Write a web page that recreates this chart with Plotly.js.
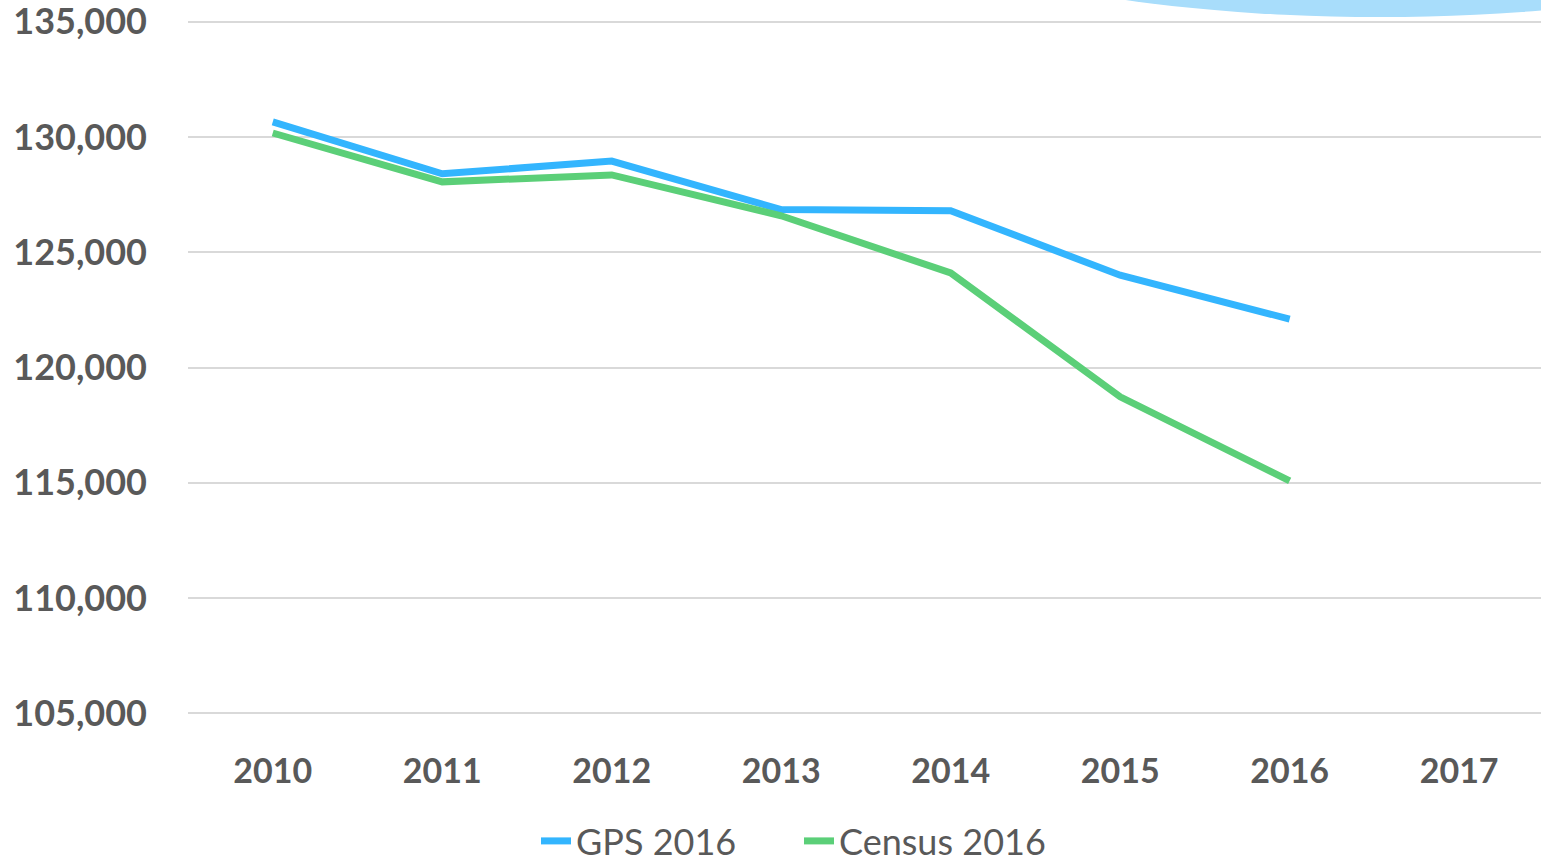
<!DOCTYPE html>
<html>
<head>
<meta charset="utf-8">
<script src="https://cdn.plot.ly/plotly-3.0.1.min.js"></script>
<style>
html,body{margin:0;padding:0;background:#fff;}
#chart{width:1541px;height:861px;}
</style>
</head>
<body>
<div id="chart"></div>
<script>
const years = ['2010','2011','2012','2013','2014','2015','2016','2017'];
const gpsYears = ['2010','2011','2012','2013','2014','2015','2016'];
const gps2016 = [130650, 128400, 128950, 126850, 126800, 124000, 122100];
const censusYears = ['2010','2011','2012','2013','2014','2015','2016'];
const census2016 = [130170, 128050, 128350, 126580, 124100, 118730, 115080];
const yTicks = [105000, 110000, 115000, 120000, 125000, 130000, 135000];

const textColor = '#595959';
const traces = [
  {x: gpsYears, y: gps2016, name: 'GPS 2016', type: 'scatter', mode: 'lines',
   line: {color: '#33b5fe', width: 7}},
  {x: censusYears, y: census2016, name: 'Census 2016', type: 'scatter', mode: 'lines',
   line: {color: '#5bcf78', width: 7}}
];

const W = 1541, HT = 861;
const H = 701, TOP = 17;
const toPY = py => 1 - (py - TOP)/H;
const toPX = px => (px - 188)/1353;

const layout = {
  width: W, height: HT,
  margin: {l: 188, r: 0, t: TOP, b: HT - TOP - H},
  paper_bgcolor: '#ffffff', plot_bgcolor: '#ffffff',
  showlegend: true,
  legend: {orientation: 'h', xref: 'container', yref: 'container',
    x: 536 / W, xanchor: 'left', y: 1 - 841 / HT, yanchor: 'middle',
    font: {family: 'Lato, sans-serif', size: 36, color: textColor},
    entrywidth: 218, entrywidthmode: 'pixels'},
  xaxis: {type: 'category', categoryarray: years, categoryorder: 'array',
    tickvals: years, ticktext: years,
    range: [-0.5, 7.483], showgrid: false, zeroline: false, showline: false,
    ticks: '', ticklabelstandoff: 30,
    tickfont: {family: 'Lato, sans-serif', size: 34, color: textColor, weight: 'bold'}},
  yaxis: {range: [104800, 135200], tickvals: yTicks,
    tickformat: ',d', showgrid: true, gridcolor: '#d9d9d9', gridwidth: 2,
    zeroline: false, showline: false, ticks: '', ticklabelstandoff: 40,
    ticklabeloverflow: 'allow',
    tickfont: {family: 'Lato, sans-serif', size: 36, color: textColor, weight: 'bold'}},
  shapes: [
    {type: 'circle', xref: 'paper', yref: 'paper', layer: 'above',
     x0: toPX(1380-490), x1: toPX(1380+490), y0: toPY(-100+117), y1: toPY(-100-117),
     fillcolor: '#a8ddfb', line: {width: 0}},
    {type: 'circle', xref: 'paper', yref: 'paper', layer: 'above',
     x0: toPX(1450), x1: toPX(1900), y0: toPY(8), y1: toPY(-150),
     fillcolor: '#92d5fa', line: {width: 0}}
  ]
};

Plotly.newPlot('chart', traces, layout, {displayModeBar: false, staticPlot: true});
</script>
</body>
</html>
